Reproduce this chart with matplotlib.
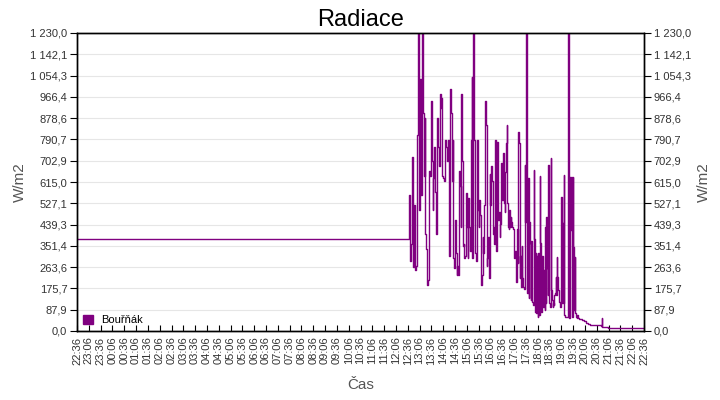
import matplotlib
matplotlib.use('Agg')
import matplotlib.pyplot as plt
import matplotlib.patches as mpatches
import numpy as np

plt.rcParams['font.family'] = ['Liberation Sans', 'DejaVu Sans']

# ---- data (W/m2) ----
flat_times = ["22:36", "12:36"]
flat_values = [380, 380]

# noisy afternoon in four chunks (start, end, values)
seg_a_span = ("12:38", "14:22")
seg_a = [450, 560, 290, 360, 720, 265, 520, 250, 270, 690, 810, 1230, 500, 1040, 560,
         1230, 900, 640, 880, 400, 340, 190, 210, 660, 640, 950, 700, 500, 630, 760,
         575, 400, 880, 760, 680, 980, 920, 960, 640, 630, 620, 790, 760, 700, 790,
         340, 310]
seg_b_span = ("14:24", "16:24")
seg_b = [1000, 900, 620, 790, 300, 260, 460, 320, 230, 270, 230, 660, 600, 430, 980,
         700, 350, 360, 300, 310, 570, 430, 300, 550, 430, 330, 790, 1050, 300, 1230,
         790, 490, 320, 290, 790, 500, 430, 540, 480, 190, 230, 390, 320, 520, 950,
         850, 270, 300, 390, 220, 650, 520, 680, 620, 400, 430, 360, 790, 330, 780, 470]
seg_c_span = ("16:26", "18:27")
seg_c = [460, 493, 389, 440, 692, 568, 540, 733, 527, 493, 657, 775, 850, 527, 430,
         420, 500, 430, 470, 450, 430, 420, 334, 300, 330, 245, 204, 420, 279, 822,
         775, 217, 310, 183, 350, 217, 183, 175, 685, 450, 1230, 640, 155, 630, 135,
         450, 362, 130, 370, 121, 107, 664, 380, 79, 320, 73, 310, 59, 320, 66,
         640, 362, 79, 310, 217, 100, 250, 86, 430, 114]
seg_d_span = ("18:28", "19:51")
seg_d = [472, 258, 148, 685, 196, 114, 100, 713, 169, 128, 100, 114, 107, 148, 155,
         224, 148, 306, 224, 169, 148, 121, 100, 286, 554, 114, 444, 114, 644, 66,
         59, 59, 59, 59, 59, 1230, 59, 52, 637, 417, 637, 169, 59, 637, 348,
         86, 306, 73, 59, 52, 66, 52, 55, 50]

tail_times = ["19:53", "19:58", "20:03", "20:08", "20:13", "20:18", "20:45", "20:48",
              "20:49", "20:50", "21:03", "21:04", "22:36"]
tail_values = [48, 45, 40, 33, 28, 25, 25, 21, 54, 18, 18, 11, 11]

y_ticks_labels = ["0,0", "87,9", "175,7", "263,6", "351,4", "439,3", "527,1", "615,0",
                  "702,9", "790,7", "878,6", "966,4", "1 054,3", "1 142,1", "1 230,0"]
y_max = 1230.0

x_tick_labels = ["22:36", "23:06", "23:36", "00:06", "00:36", "01:06", "01:36", "02:06",
                 "02:36", "03:06", "03:36", "04:06", "04:36", "05:06", "05:36", "06:06",
                 "06:36", "07:06", "07:36", "08:06", "08:36", "09:06", "09:36", "10:06",
                 "10:36", "11:06", "11:36", "12:06", "12:36", "13:06", "13:36", "14:06",
                 "14:36", "15:06", "15:36", "16:06", "16:36", "17:06", "17:36", "18:06",
                 "18:36", "19:06", "19:36", "20:06", "20:36", "21:06", "21:36", "22:06",
                 "22:36"]


def to_min(s):
    # minutes since the 22:36 start of the window
    h, m = s.split(":")
    return (int(h) * 60 + int(m) - (22 * 60 + 36)) % 1440


def seg_times(span, vals):
    return np.linspace(to_min(span[0]), to_min(span[1]), len(vals))


t_tail = np.array([to_min(s) for s in tail_times], dtype=float)
t_tail[-1] = 1440

t = np.concatenate([[to_min(s) for s in flat_times],
                    seg_times(seg_a_span, seg_a), seg_times(seg_b_span, seg_b),
                    seg_times(seg_c_span, seg_c), seg_times(seg_d_span, seg_d),
                    t_tail])
v = np.concatenate([flat_values, seg_a, seg_b, seg_c, seg_d, tail_values])

purple = '#800080'
label_color = '#555555'

fig = plt.figure(figsize=(7.2, 4), dpi=100)
ax = fig.add_axes([77 / 720, 1 - 331 / 400, 567 / 720, 298 / 400])

ax.plot(t, v, color=purple, linewidth=1.0, drawstyle='steps-post')

y_ticks = np.arange(len(y_ticks_labels)) * y_max / (len(y_ticks_labels) - 1)
ax.set_ylim(0, y_max)
ax.set_xlim(0, 1440)
ax.set_yticks(y_ticks)
ax.set_yticklabels(y_ticks_labels)
ax.set_xticks(np.arange(len(x_tick_labels)) * 30)
ax.set_xticklabels(x_tick_labels, rotation=90)
ax.grid(axis='y', color='#e6e6e6', linewidth=0.8)
ax.set_axisbelow(True)

ax.tick_params(axis='y', direction='out', length=5, width=0.8, labelsize=8,
               labelcolor='#333333', pad=2)
ax.tick_params(axis='x', direction='in', length=4, width=0.8, labelsize=8,
               labelcolor='#333333', pad=4)

ax2 = ax.twinx()
ax2.set_ylim(0, y_max)
ax2.set_yticks(y_ticks)
ax2.set_yticklabels(y_ticks_labels)
ax2.tick_params(axis='y', direction='out', length=5, width=0.8, labelsize=8,
                labelcolor='#333333', pad=2)

for a in (ax, ax2):
    for sp in a.spines.values():
        sp.set_color('black')
        sp.set_linewidth(1.0)

ax.set_title('Radiace', fontsize=17, pad=5)
ax.set_ylabel('W/m2', fontsize=11, color=label_color, labelpad=2)
ax2.set_ylabel('W/m2', fontsize=11, color=label_color, labelpad=4)
ax.set_xlabel('Čas', fontsize=11, color=label_color, labelpad=10)

handle = mpatches.Patch(color=purple, label='Bouřňák')
ax.legend(handles=[handle], loc='lower left', frameon=False, fontsize=8,
          handlelength=0.9, handleheight=0.9, handletextpad=0.8,
          borderaxespad=0.2, borderpad=0.3)

fig.savefig('out.png', dpi=100)
